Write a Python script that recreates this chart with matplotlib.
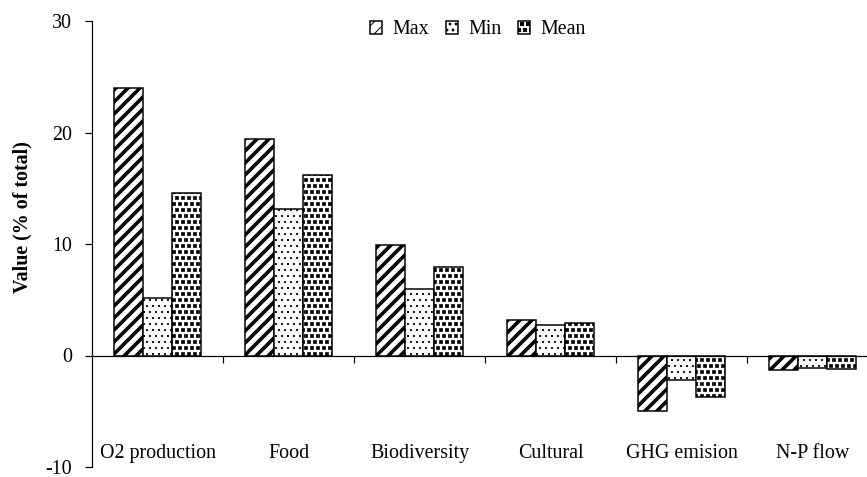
import matplotlib
matplotlib.use("Agg")
import matplotlib.pyplot as plt
import matplotlib.hatch as mhatch
from matplotlib.path import Path
import numpy as np

categories = ["O2 production", "Food", "Biodiversity", "Cultural", "GHG emision", "N-P flow"]
series_names = ["Max", "Min", "Mean"]
max_vals = [24.0, 19.4, 9.9, 3.2, -5.0, -1.3]
min_vals = [5.2, 13.1, 6.0, 2.7, -2.2, -1.1]
mean_vals = [14.6, 16.2, 7.9, 2.9, -3.7, -1.2]
yticks = [-10, 0, 10, 20, 30]


# square-dot fill textures (replace the circle hatches)
class _SquareDots(mhatch.Shapes):
    filled = True
    char = '.'
    size = 0.5

    def __init__(self, hatch, density):
        self.num_rows = hatch.count(self.char) * density
        rect = Path.unit_rectangle()
        self.shape_vertices = rect.vertices - 0.5
        self.shape_codes = rect.codes
        super().__init__(hatch, density)


class LargeSquareDots(_SquareDots):
    char = '.'
    size = 0.52


class SmallSquareDots(_SquareDots):
    char = 'o'
    size = 0.26


for i, t in enumerate(mhatch._hatch_types):
    if t is mhatch.SmallFilledCircles:
        mhatch._hatch_types[i] = LargeSquareDots
    elif t is mhatch.SmallCircles:
        mhatch._hatch_types[i] = SmallSquareDots

plt.rcParams['font.family'] = ['Liberation Serif', 'DejaVu Serif']

DPI = 72
fig = plt.figure(figsize=(867 / DPI, 477 / DPI), dpi=DPI)
ax = fig.add_axes([92 / 867, 10 / 477, 786 / 867, 446 / 477])

x = np.arange(len(categories))
w = 0.222
styles = [("//", 3.6), ("oo", 0.5), ("..", 0.6)]
handles = []
for k, (vals, name) in enumerate(zip([max_vals, min_vals, mean_vals], series_names)):
    hatch, hlw = styles[k]
    with plt.rc_context({'hatch.linewidth': hlw, 'hatch.color': 'black'}):
        bars = ax.bar(x + (k - 1) * w, vals, width=w, color='white',
                      edgecolor='black', linewidth=1.5, hatch=hatch, label=name)
        for b in bars:
            if hasattr(b, 'set_hatch_linewidth'):
                b.set_hatch_linewidth(hlw)
    handles.append(bars)

ax.set_xlim(-0.5, len(categories) - 0.5)
ax.set_ylim(-10, 30)
ax.set_yticks(yticks)
ax.set_yticklabels([str(t) for t in yticks])
ax.tick_params(axis='y', direction='out', length=7, width=1.2, pad=13, labelsize=20)

ax.spines['top'].set_visible(False)
ax.spines['right'].set_visible(False)
ax.spines['left'].set_linewidth(1.2)
ax.spines['bottom'].set_position(('data', 0))
ax.spines['bottom'].set_linewidth(1.2)
ax.set_xticks(x[:-1] + 0.5)
ax.set_xticklabels([])
ax.tick_params(axis='x', direction='out', length=7, width=1.2)

for i, c in enumerate(categories):
    ax.text(i, -9.2, c, ha='center', va='baseline', fontsize=20)

ax.set_ylabel("Value (% of total)", fontsize=20, fontweight='bold')
ax.yaxis.set_label_coords((32 - 92) / 786, (467 - 217) / 446)

leg = fig.legend(handles=handles, labels=series_names, loc='center',
                 bbox_to_anchor=(478 / 867, 1 - 30 / 477), ncol=3, frameon=False,
                 fontsize=20, handlelength=0.6, handleheight=0.6,
                 handletextpad=0.5, columnspacing=0.85)

fig.savefig("out.png", dpi=DPI)
